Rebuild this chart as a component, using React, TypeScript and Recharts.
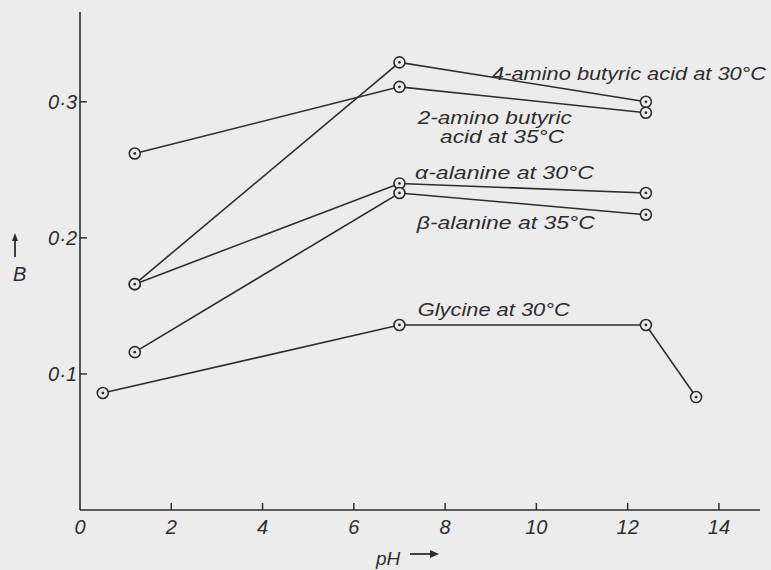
import React from "react";
import { LineChart, Line, XAxis, YAxis, ReferenceDot, Label } from "recharts";

// B coefficient vs pH for several amino acids
const aminoButyric4Ph = [1.2, 7.0, 12.4];
const aminoButyric4B = [0.166, 0.329, 0.3];

const aminoButyric2Ph = [1.2, 7.0, 12.4];
const aminoButyric2B = [0.262, 0.311, 0.292];

const alphaAlaninePh = [1.2, 7.0, 12.4];
const alphaAlanineB = [0.166, 0.24, 0.233];

const betaAlaninePh = [1.2, 7.0, 12.4];
const betaAlanineB = [0.116, 0.233, 0.217];

const glycinePh = [0.5, 7.0, 12.4, 13.5];
const glycineB = [0.086, 0.136, 0.136, 0.083];

const phTicks = [0, 2, 4, 6, 8, 10, 12, 14];
const bTicks = [0.1, 0.2, 0.3];

// series labels, placed in data coordinates
const seriesLabels = [
  { text: "4-amino butyric acid at 30°C", ph: 9.03, b: 0.3206, len: 274 },
  { text: "2-amino butyric", ph: 7.4, b: 0.2882, len: 154 },
  { text: "acid at 35°C", ph: 7.89, b: 0.2743, len: 124 },
  { text: "α-alanine at 30°C", ph: 7.34, b: 0.2478, len: 179 },
  { text: "β-alanine at 35°C", ph: 7.38, b: 0.211, len: 178 },
  { text: "Glycine at 30°C", ph: 7.4, b: 0.1471, len: 152 },
];

const BG = "#ececec";
const INK = "#2e2e2e";
const FONT = "'Liberation Sans', Arial, sans-serif";

const toPoints = (ph: number[], b: number[]) =>
  ph.map((p, i) => ({ ph: p, b: b[i] }));

const renderDot = (props: any) => {
  const { cx, cy, index } = props;
  if (cx == null || cy == null) return <g key={index} />;
  return (
    <g key={index}>
      <circle cx={cx} cy={cy} r={5.5} fill={BG} stroke={INK} strokeWidth={1.6} />
      <circle cx={cx} cy={cy} r={1.4} fill={INK} />
    </g>
  );
};

const XTick = (props: any) => {
  const { x, y, payload } = props;
  return (
    <g>
      {payload.value !== 0 && (
        <line x1={x} x2={x} y1={y} y2={y - 7} stroke={INK} strokeWidth={1.5} />
      )}
      <text
        x={x}
        y={y + 24}
        textAnchor="middle"
        fontFamily={FONT}
        fontStyle="italic"
        fontSize={20}
        fill={INK}
      >
        {payload.value}
      </text>
    </g>
  );
};

const YTick = (props: any) => {
  const { x, y, payload } = props;
  return (
    <g>
      <line x1={x} x2={x + 7} y1={y} y2={y} stroke={INK} strokeWidth={1.5} />
      <text
        x={x - 3}
        y={y + 7}
        textAnchor="end"
        fontFamily={FONT}
        fontStyle="italic"
        fontSize={20}
        fill={INK}
      >
        {payload.value.toFixed(1).replace(".", "·")}
      </text>
    </g>
  );
};

const seriesLabelContent = (text: string, len: number) => (props: any) => {
  const vb = props.viewBox;
  const x = vb.x + vb.width / 2;
  const y = vb.y + vb.height / 2;
  return (
    <text
      x={x}
      y={y + 6}
      fontFamily={FONT}
      fontStyle="italic"
      fontSize={18}
      fill={INK}
      textLength={len}
      lengthAdjust="spacingAndGlyphs"
    >
      {text}
    </text>
  );
};

const yTitle = (props: any) => {
  const vb = props.viewBox;
  const ax = vb.x - 5;
  const top = vb.y + 221;
  return (
    <g>
      <line x1={ax} x2={ax} y1={top + 24} y2={top + 6} stroke={INK} strokeWidth={1.8} />
      <polygon points={`${ax - 3},${top + 8} ${ax + 3},${top + 8} ${ax},${top}`} fill={INK} />
      <text
        x={vb.x - 7}
        y={top + 48}
        fontFamily={FONT}
        fontStyle="italic"
        fontSize={20}
        fill={INK}
      >
        B
      </text>
    </g>
  );
};

const xTitle = (props: any) => {
  const vb = props.viewBox;
  const x0 = vb.x + 296;
  const y0 = vb.y + 55;
  return (
    <g>
      <text x={x0} y={y0} fontFamily={FONT} fontStyle="italic" fontSize={19} fill={INK}>
        pH
      </text>
      <line x1={x0 + 34} x2={x0 + 56} y1={y0 - 11} y2={y0 - 11} stroke={INK} strokeWidth={1.8} />
      <polygon
        points={`${x0 + 54},${y0 - 15} ${x0 + 54},${y0 - 7} ${x0 + 63},${y0 - 11}`}
        fill={INK}
      />
    </g>
  );
};

const series = [
  { key: "4-amino", data: toPoints(aminoButyric4Ph, aminoButyric4B) },
  { key: "2-amino", data: toPoints(aminoButyric2Ph, aminoButyric2B) },
  { key: "alpha", data: toPoints(alphaAlaninePh, alphaAlanineB) },
  { key: "beta", data: toPoints(betaAlaninePh, betaAlanineB) },
  { key: "glycine", data: toPoints(glycinePh, glycineB) },
];

export default function App() {
  return (
    <div
      style={{
        position: "fixed",
        left: 0,
        top: 0,
        width: 771,
        height: 570,
        background: BG,
      }}
    >
      <LineChart
        width={771}
        height={570}
        margin={{ top: 12, right: 11, bottom: 0, left: 20 }}
      >
        <XAxis
          type="number"
          dataKey="ph"
          domain={[0, 14.9]}
          ticks={phTicks}
          allowDataOverflow
          height={60}
          tickSize={0}
          tickMargin={0}
          tick={<XTick />}
          axisLine={{ stroke: INK, strokeWidth: 1.6 }}
        >
          <Label content={xTitle} />
        </XAxis>
        <YAxis
          type="number"
          dataKey="b"
          domain={[0, 0.366]}
          ticks={bTicks}
          allowDataOverflow
          width={60}
          tickSize={0}
          tickMargin={0}
          tick={<YTick />}
          axisLine={{ stroke: INK, strokeWidth: 1.6 }}
        >
          <Label content={yTitle} />
        </YAxis>
        {series.map((s) => (
          <Line
            key={s.key}
            data={s.data}
            dataKey="b"
            type="linear"
            stroke={INK}
            strokeWidth={1.6}
            dot={renderDot}
            activeDot={false}
            isAnimationActive={false}
          />
        ))}
        {seriesLabels.map((l) => (
          <ReferenceDot
            key={l.text}
            x={l.ph}
            y={l.b}
            r={1}
            fill="none"
            stroke="none"
            ifOverflow="visible"
            label={{ content: seriesLabelContent(l.text, l.len) }}
          />
        ))}
      </LineChart>
    </div>
  );
}
